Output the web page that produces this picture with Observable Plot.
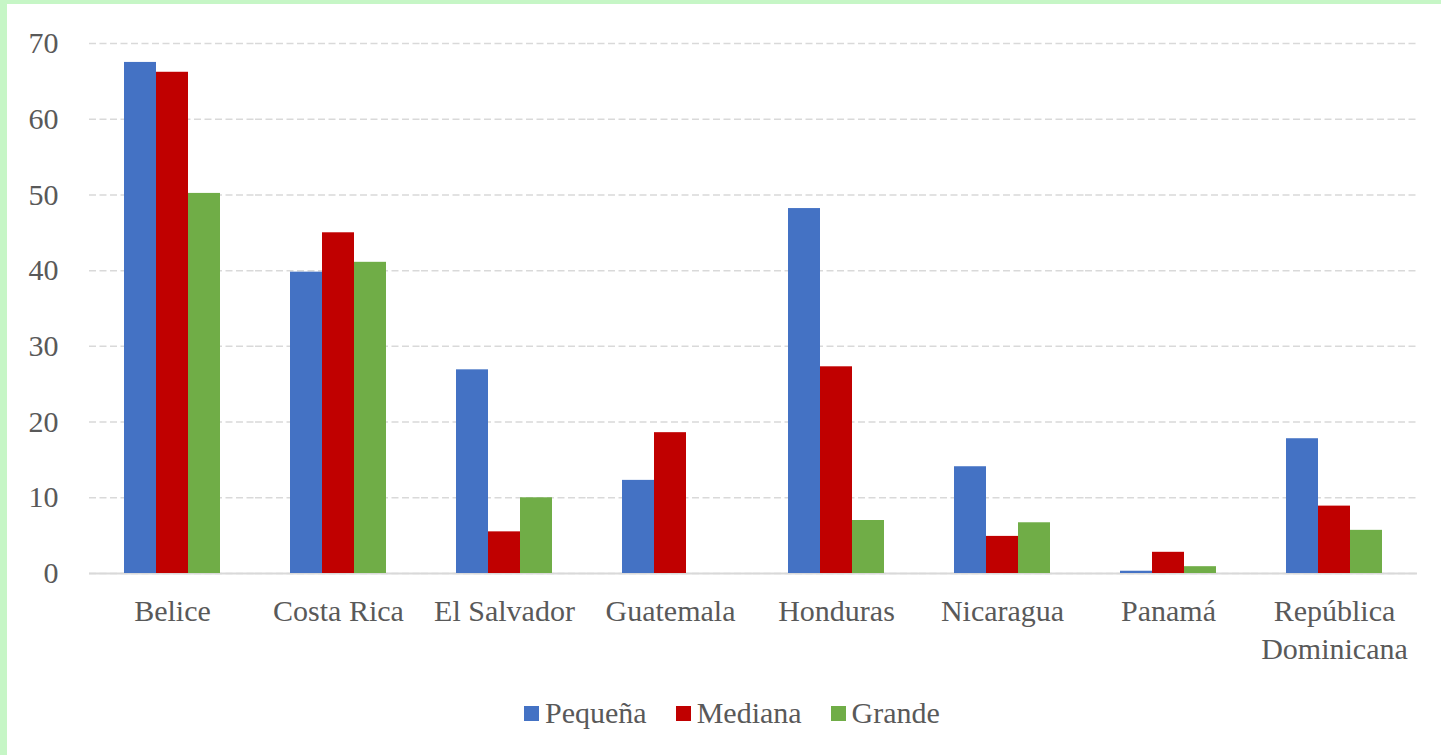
<!DOCTYPE html>
<html>
<head>
<meta charset="utf-8">
<script src="https://cdn.jsdelivr.net/npm/d3@7"></script>
<script src="https://cdn.jsdelivr.net/npm/@observablehq/plot@0.6"></script>
<style>
  html, body { margin: 0; padding: 0; }
  body { width: 1441px; height: 755px; background: #c6f6c6; overflow: hidden; position: relative; }
  #card { position: absolute; left: 7px; top: 4px; width: 1434px; height: 751px; background: #ffffff; }
  #chart { position: absolute; left: 0; top: 0; }
  #legend { position: absolute; left: 517px; top: 692px; display: flex; align-items: center;
            font-family: "Liberation Serif", serif; font-size: 30px; color: #595959; white-space: nowrap; }
  .item { display: flex; align-items: center; margin-right: 29px; }
  .sw { width: 15px; height: 15px; margin-right: 6px; }
</style>
</head>
<body>
<div id="card">
  <div id="chart"></div>
  <div id="legend"></div>
</div>
<script>
const countries = ["Belice", "Costa Rica", "El Salvador", "Guatemala", "Honduras", "Nicaragua", "Panamá", "República Dominicana"];
const series = ["Pequeña", "Mediana", "Grande"];
const colors = ["#4472C4", "#C00000", "#70AD47"];
const pequena = [67.5, 39.8, 26.9, 12.3, 48.2, 14.1, 0.3, 17.8];
const mediana = [66.2, 45.0, 5.5, 18.6, 27.3, 4.9, 2.8, 8.9];
const grande = [50.2, 41.1, 10.0, 0, 7.0, 6.7, 0.9, 5.7];
const yTicks = [0, 10, 20, 30, 40, 50, 60, 70];

const seriesValues = [pequena, mediana, grande];
const data = [];
countries.forEach((c, i) => {
  series.forEach((s, j) => data.push({country: c, series: s, value: seriesValues[j][i]}));
});

const chart = Plot.plot({
  width: 1434,
  height: 670,
  marginLeft: 79,
  marginRight: 21,
  marginTop: 39,
  marginBottom: 101,
  style: {fontFamily: "Liberation Serif, serif", fontSize: "30px", color: "#595959", background: "transparent", overflow: "visible"},
  fx: {domain: countries, padding: 0, label: null},
  x: {domain: series, padding: 0, insetLeft: 35, insetRight: 35, axis: null},
  y: {domain: [0, 70], label: null},
  color: {domain: series, range: colors},
  marks: [
    Plot.gridY(yTicks, {stroke: "#d9d9d9", strokeOpacity: 1, strokeWidth: 1.5, strokeDasharray: "7,3.5"}),
    Plot.axisY(yTicks, {tickSize: 0, tickPadding: 31, label: null, fontSize: 30, fill: "#595959"}),
    Plot.axisFx({anchor: "bottom", tickSize: 0, tickPadding: 21, label: null, fontSize: 30, fill: "#595959", lineHeight: 1.25,
                 tickFormat: d => d.replace("República ", "República\n")}),
    Plot.ruleY([0], {stroke: "#d9d9d9", strokeWidth: 2}),
    Plot.barY(data, {fx: "country", x: "series", y: "value", fill: "series"})
  ]
});
document.getElementById("chart").appendChild(chart);

const legend = document.getElementById("legend");
series.forEach((s, i) => {
  const item = document.createElement("div");
  item.className = "item";
  const sw = document.createElement("div");
  sw.className = "sw";
  sw.style.background = colors[i];
  const t = document.createElement("span");
  t.textContent = s;
  item.appendChild(sw);
  item.appendChild(t);
  legend.appendChild(item);
});
</script>
</body>
</html>
